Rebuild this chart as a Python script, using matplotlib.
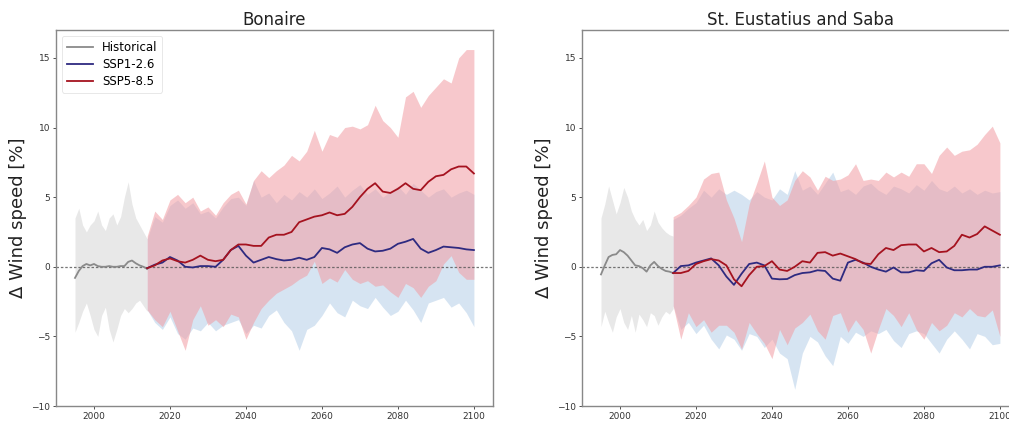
import numpy as np
import matplotlib
matplotlib.use("Agg")
import matplotlib.pyplot as plt

# ---------------- data ----------------
hist_years = list(range(1995, 2015))
fut_years = list(range(2014, 2101, 2))

# Bonaire
bon_hist_mean = [-0.8, -0.3, 0.05, 0.2, 0.1, 0.2, 0.05, 0.0, 0.0, 0.05,
                 0.0, 0.0, 0.05, 0.05, 0.35, 0.45, 0.25, 0.1, 0.0, -0.15]
bon_hist_upper = [3.5, 4.2, 3.0, 2.5, 3.0, 3.3, 4.0, 3.0, 2.6, 3.5,
                  3.8, 3.0, 3.6, 5.0, 6.1, 4.5, 3.5, 3.0, 2.5, 2.0]
bon_hist_lower = [-4.7, -4.0, -3.2, -2.6, -3.5, -4.5, -5.0, -3.5, -2.9, -4.5,
                  -5.4, -4.5, -3.5, -3.0, -3.3, -3.0, -2.6, -2.4, -2.8, -3.2]

bon_ssp126_mean = [-0.1, 0.15, 0.3, 0.7, 0.45, 0.0, -0.05, 0.05, 0.05, 0.0,
                   0.5, 1.2, 1.5, 0.8, 0.3, 0.5, 0.7, 0.55, 0.45, 0.5,
                   0.65, 0.5, 0.7, 1.35, 1.25, 1.0, 1.4, 1.6, 1.7, 1.3,
                   1.1, 1.15, 1.3, 1.65, 1.8, 2.0, 1.3, 1.0, 1.2, 1.45,
                   1.4, 1.35, 1.25, 1.2]
bon_ssp126_upper = [2.0, 3.6, 3.2, 4.4, 4.8, 4.2, 4.6, 3.8, 4.0, 3.5,
                    4.3, 4.9, 5.0, 4.4, 6.2, 5.0, 5.3, 4.6, 5.2, 4.8,
                    5.4, 5.0, 5.6, 4.9, 5.3, 5.8, 5.0, 5.5, 5.9, 5.2,
                    5.6, 5.0, 5.4, 5.8, 5.2, 6.0, 5.5, 5.0, 5.4, 5.6,
                    5.0, 5.3, 5.5, 5.2]
bon_ssp126_lower = [-3.1, -4.0, -4.5, -3.6, -4.8, -5.2, -4.4, -4.6, -4.0, -4.6,
                    -4.2, -4.0, -3.8, -4.8, -4.2, -4.4, -3.5, -3.1, -4.0, -4.6,
                    -6.0, -4.5, -4.2, -3.5, -2.6, -3.3, -3.6, -2.4, -2.8, -3.0,
                    -2.2, -2.9, -3.5, -3.2, -2.4, -3.1, -4.0, -2.6, -2.4, -2.2,
                    -2.9, -2.6, -3.3, -4.3]

bon_ssp585_mean = [-0.1, 0.1, 0.45, 0.6, 0.4, 0.3, 0.5, 0.8, 0.5, 0.4,
                   0.5, 1.2, 1.6, 1.6, 1.5, 1.5, 2.1, 2.3, 2.3, 2.5,
                   3.2, 3.4, 3.6, 3.7, 3.9, 3.7, 3.8, 4.3, 5.0, 5.6,
                   6.0, 5.4, 5.3, 5.6, 6.0, 5.6, 5.5, 6.1, 6.5, 6.6,
                   7.0, 7.2, 7.2, 6.7]
bon_ssp585_upper = [2.2, 4.0, 3.4, 4.8, 5.2, 4.6, 5.0, 4.0, 4.3, 3.7,
                    4.6, 5.2, 5.5, 4.5, 6.2, 6.9, 6.4, 6.9, 7.3, 8.0,
                    7.6, 8.3, 9.8, 8.3, 9.5, 9.3, 10.0, 10.1, 9.9, 10.2,
                    11.6, 10.5, 10.0, 9.3, 12.2, 12.6, 11.45, 12.3, 12.9, 13.5,
                    13.2, 15.0, 15.6, 15.6]
bon_ssp585_lower = [-3.1, -3.8, -4.3, -3.2, -4.6, -6.0, -3.8, -2.8, -4.2, -3.8,
                    -4.3, -3.4, -3.6, -5.2, -4.0, -3.0, -2.4, -1.9, -1.6, -1.3,
                    -0.9, -0.6, 0.4, -1.2, -0.8, -1.1, -0.2, -0.9, -1.2, -1.0,
                    -1.4, -1.3, -1.8, -2.2, -1.2, -1.5, -2.2, -1.4, -1.0, 0.2,
                    0.8, -0.4, -0.9, -0.9]

# St. Eustatius and Saba
ses_hist_mean = [-0.55, 0.1, 0.7, 0.85, 0.9, 1.2, 1.05, 0.8, 0.45, 0.1,
                 0.05, -0.1, -0.35, 0.1, 0.35, 0.05, -0.15, -0.3, -0.35, -0.45]
ses_hist_upper = [3.5, 4.5, 5.8, 4.8, 3.8, 4.6, 5.7, 5.0, 4.0, 3.4,
                  3.0, 3.4, 2.6, 3.0, 4.0, 3.2, 2.8, 2.5, 2.3, 2.2]
ses_hist_lower = [-4.3, -3.2, -4.0, -4.7, -3.6, -3.0, -4.0, -4.5, -3.5, -4.7,
                  -3.4, -3.8, -4.3, -3.3, -3.5, -4.2, -3.6, -3.2, -3.4, -3.0]

ses_ssp126_mean = [-0.45, 0.05, 0.1, 0.3, 0.45, 0.6, 0.1, -0.7, -1.3, -0.5,
                   0.2, 0.3, 0.1, -0.85, -0.9, -0.88, -0.6, -0.45, -0.4, -0.25,
                   -0.3, -0.85, -1.0, 0.3, 0.5, 0.3, 0.0, -0.2, -0.35, -0.05,
                   -0.4, -0.4, -0.25, -0.3, 0.25, 0.5, -0.05, -0.25, -0.25, -0.2,
                   -0.2, 0.0, 0.0, 0.1]
ses_ssp126_upper = [3.4, 3.7, 4.2, 4.6, 5.5, 5.0, 5.6, 5.2, 5.5, 5.2,
                    4.8, 5.4, 5.0, 4.8, 5.6, 5.2, 6.9, 5.5, 5.8, 5.2,
                    6.0, 6.8, 5.4, 5.6, 5.2, 5.8, 6.0, 5.5, 5.2, 5.8,
                    5.6, 5.3, 5.9, 5.5, 6.2, 5.6, 5.4, 5.8, 5.3, 5.6,
                    5.2, 5.5, 5.3, 5.4]
ses_ssp126_lower = [-2.8, -4.5, -4.0, -4.8, -4.2, -5.2, -5.9, -4.9, -5.2, -6.0,
                    -4.8, -5.0, -5.8, -5.2, -6.2, -6.6, -8.8, -6.2, -5.0, -5.4,
                    -6.4, -7.1, -5.0, -5.5, -4.7, -5.0, -4.6, -4.8, -4.5, -5.3,
                    -5.8, -4.8, -4.6, -4.8, -5.5, -6.2, -5.2, -4.6, -5.2, -5.9,
                    -4.8, -5.0, -5.6, -5.5]

ses_ssp585_mean = [-0.45, -0.45, -0.3, 0.2, 0.4, 0.55, 0.45, 0.1, -0.9, -1.4,
                   -0.6, 0.0, 0.05, 0.4, -0.2, -0.3, 0.0, 0.4, 0.3, 1.0,
                   1.05, 0.8, 0.95, 0.75, 0.55, 0.25, 0.2, 0.9, 1.35, 1.2,
                   1.55, 1.6, 1.6, 1.1, 1.35, 1.05, 1.1, 1.5, 2.3, 2.1,
                   2.35, 2.9, 2.6, 2.3]
ses_ssp585_upper = [3.6, 3.9, 4.4, 5.0, 6.3, 6.7, 6.8, 4.8, 3.5, 1.8,
                    4.5, 6.0, 7.6, 5.0, 4.4, 4.8, 6.2, 6.9, 6.45, 5.5,
                    6.5, 6.2, 6.3, 6.6, 7.4, 6.2, 6.3, 6.2, 6.8, 6.45,
                    6.8, 6.5, 7.4, 7.4, 6.7, 8.0, 8.6, 8.0, 8.3, 8.4,
                    8.8, 9.5, 10.1, 8.9]
ses_ssp585_lower = [-2.8, -5.2, -3.3, -4.3, -3.8, -4.7, -4.2, -4.2, -4.7, -5.9,
                    -4.0, -4.8, -5.5, -6.6, -4.5, -5.6, -4.4, -4.0, -3.4, -4.6,
                    -5.2, -3.5, -3.3, -4.7, -3.8, -4.5, -6.2, -4.5, -3.0, -3.5,
                    -4.3, -3.3, -4.5, -5.2, -4.0, -4.6, -4.2, -3.3, -3.6, -3.0,
                    -3.5, -3.6, -3.1, -5.0]

titles = ["Bonaire", "St. Eustatius and Saba"]
ylabel = "Δ Wind speed [%]"
legend_labels = ["Historical", "SSP1-2.6", "SSP5-8.5"]
xticks = [2000, 2020, 2040, 2060, 2080, 2100]
yticks = [-10, -5, 0, 5, 10, 15]

# ---------------- style ----------------
c_hist, c_hist_band = "#8a8a8a", "#d9d9d9"
c_126, c_126_band = "#2e2a80", "#bcd3ea"
c_585, c_585_band = "#a5121f", "#f29ca2"

panels = [
    (bon_hist_mean, bon_hist_upper, bon_hist_lower,
     bon_ssp126_mean, bon_ssp126_upper, bon_ssp126_lower,
     bon_ssp585_mean, bon_ssp585_upper, bon_ssp585_lower),
    (ses_hist_mean, ses_hist_upper, ses_hist_lower,
     ses_ssp126_mean, ses_ssp126_upper, ses_ssp126_lower,
     ses_ssp585_mean, ses_ssp585_upper, ses_ssp585_lower),
]

fig = plt.figure(figsize=(10.09, 4.21), dpi=100)
ax_rects = [[0.0555, 0.0356, 0.433, 0.893], [0.5768, 0.0356, 0.433, 0.893]]

for i, (rect, data) in enumerate(zip(ax_rects, panels)):
    (hm, hu, hl, m1, u1, l1, m5, u5, l5) = data
    ax = fig.add_axes(rect)
    ax.fill_between(hist_years, hl, hu, color=c_hist_band, alpha=0.6, lw=0)
    ax.fill_between(fut_years, l1, u1, color=c_126_band, alpha=0.6, lw=0)
    ax.fill_between(fut_years, l5, u5, color=c_585_band, alpha=0.55, lw=0)
    ax.axhline(0, color="#555555", ls=(0, (2, 1.5)), lw=0.9, alpha=0.8)
    ax.plot(hist_years, hm, color=c_hist, lw=1.3, label=legend_labels[0])
    ax.plot(fut_years, m1, color=c_126, lw=1.3, label=legend_labels[1])
    ax.plot(fut_years, m5, color=c_585, lw=1.3, label=legend_labels[2])
    ax.set_xlim(1990, 2105)
    ax.set_ylim(-10, 17)
    ax.set_xticks(xticks)
    ax.set_yticks(yticks)
    ax.tick_params(labelsize=6.5, colors="#333333", length=2.5, width=0.6,
                   pad=1.5)
    for s in ax.spines.values():
        s.set_color("#888888")
        s.set_linewidth(1.0)
    ax.set_title(titles[i], fontsize=12, color="#222222", pad=4)
    ax.set_ylabel(ylabel, fontsize=13, color="#222222", labelpad=3)
    if i == 0:
        leg = ax.legend(loc="upper left", fontsize=8.5, frameon=True,
                        handlelength=2.2, borderpad=0.4, labelspacing=0.35)
        leg.get_frame().set_edgecolor("#dddddd")
        leg.get_frame().set_linewidth(0.6)

fig.savefig("out.png", dpi=100)
